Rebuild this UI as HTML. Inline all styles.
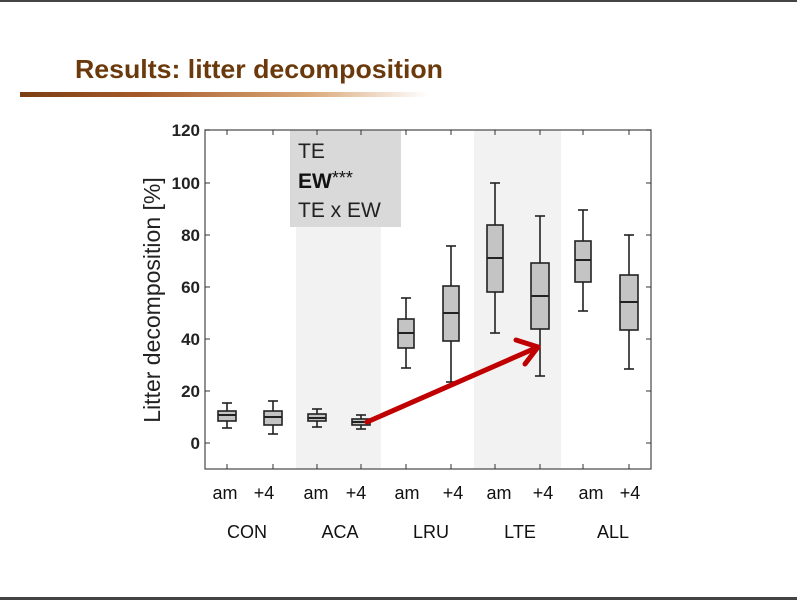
<!DOCTYPE html>
<html><head><meta charset="utf-8"><style>
html,body{margin:0;padding:0;background:#fff;}
svg{display:block;font-family:"Liberation Sans",Arial,sans-serif;}
</style></head><body>
<svg width="797" height="600" viewBox="0 0 797 600" xmlns="http://www.w3.org/2000/svg">
<defs>
<linearGradient id="g" x1="0" x2="1" y1="0" y2="0">
<stop offset="0" stop-color="#7a3e12"/><stop offset="0.3" stop-color="#a65a2a"/><stop offset="0.7" stop-color="#d9a676"/><stop offset="1" stop-color="#ffffff"/>
</linearGradient>
</defs>
<rect x="0" y="0" width="797" height="2" fill="#444"/>
<rect x="0" y="597" width="797" height="3" fill="#444"/>
<text x="75" y="78" font-size="26" font-weight="bold" fill="#6b3a0c" textLength="368" lengthAdjust="spacingAndGlyphs">Results: litter decomposition</text>
<rect x="20" y="92" width="408" height="5" fill="url(#g)"/>

<rect x="296" y="130" width="85" height="339" fill="#f2f2f2"/>
<rect x="474" y="130" width="87" height="339" fill="#f2f2f2"/>
<rect x="290" y="130" width="111" height="97" fill="#d9d9d9"/>
<text x="298" y="158" font-size="21" fill="#222">TE</text>
<text x="298" y="188" font-size="21" fill="#111" font-weight="bold">EW<tspan font-weight="normal" font-size="18" dy="-4">***</tspan></text>
<text x="298" y="217" font-size="21" fill="#222">TE x EW</text>

<rect x="205" y="130" width="446" height="339" fill="none" stroke="#555" stroke-width="1.3"/>
<g stroke="#333" stroke-width="1">
<line x1="205" y1="443" x2="210" y2="443"/><line x1="651" y1="443" x2="646" y2="443"/>
<line x1="205" y1="391" x2="210" y2="391"/><line x1="651" y1="391" x2="646" y2="391"/>
<line x1="205" y1="339" x2="210" y2="339"/><line x1="651" y1="339" x2="646" y2="339"/>
<line x1="205" y1="287" x2="210" y2="287"/><line x1="651" y1="287" x2="646" y2="287"/>
<line x1="205" y1="235" x2="210" y2="235"/><line x1="651" y1="235" x2="646" y2="235"/>
<line x1="205" y1="183" x2="210" y2="183"/><line x1="651" y1="183" x2="646" y2="183"/>
<line x1="205" y1="130" x2="210" y2="130"/><line x1="651" y1="130" x2="646" y2="130"/>
</g>
<g stroke="#333" stroke-width="1">
<line x1="227" y1="469" x2="227" y2="464"/><line x1="273" y1="469" x2="273" y2="464"/><line x1="317" y1="469" x2="317" y2="464"/><line x1="361" y1="469" x2="361" y2="464"/><line x1="406" y1="469" x2="406" y2="464"/><line x1="451" y1="469" x2="451" y2="464"/><line x1="495" y1="469" x2="495" y2="464"/><line x1="540" y1="469" x2="540" y2="464"/><line x1="583" y1="469" x2="583" y2="464"/><line x1="629" y1="469" x2="629" y2="464"/>
<line x1="227" y1="130" x2="227" y2="135"/><line x1="273" y1="130" x2="273" y2="135"/><line x1="317" y1="130" x2="317" y2="135"/><line x1="361" y1="130" x2="361" y2="135"/><line x1="406" y1="130" x2="406" y2="135"/><line x1="451" y1="130" x2="451" y2="135"/><line x1="495" y1="130" x2="495" y2="135"/><line x1="540" y1="130" x2="540" y2="135"/><line x1="583" y1="130" x2="583" y2="135"/><line x1="629" y1="130" x2="629" y2="135"/>
</g>
<g font-size="17" font-weight="bold" fill="#222" text-anchor="end">
<text x="200" y="449">0</text><text x="200" y="397">20</text><text x="200" y="345">40</text><text x="200" y="293">60</text><text x="200" y="241">80</text><text x="200" y="189">100</text><text x="200" y="136">120</text>
</g>
<text transform="translate(160,300) rotate(-90)" font-size="23" fill="#222" text-anchor="middle">Litter decomposition [%]</text>

<g stroke="#222" stroke-width="1.6" fill="#c4c4c4">
<line x1="227" y1="403" x2="227" y2="428"/><line x1="222" y1="403" x2="232" y2="403"/><line x1="222" y1="428" x2="232" y2="428"/>
<rect x="218" y="411" width="18" height="10"/><line x1="218" y1="415" x2="236" y2="415" stroke-width="2"/>
<line x1="273" y1="401" x2="273" y2="434"/><line x1="268" y1="401" x2="278" y2="401"/><line x1="268" y1="434" x2="278" y2="434"/>
<rect x="264" y="411" width="18" height="14"/><line x1="264" y1="417" x2="282" y2="417" stroke-width="2"/>
<line x1="317" y1="409" x2="317" y2="427"/><line x1="312" y1="409" x2="322" y2="409"/><line x1="312" y1="427" x2="322" y2="427"/>
<rect x="308" y="414" width="18" height="7"/><line x1="308" y1="418" x2="326" y2="418" stroke-width="2"/>
<line x1="361" y1="415" x2="361" y2="429"/><line x1="356" y1="415" x2="366" y2="415"/><line x1="356" y1="429" x2="366" y2="429"/>
<rect x="352" y="419" width="18" height="6"/><line x1="352" y1="422" x2="370" y2="422" stroke-width="2"/>
<line x1="406" y1="298" x2="406" y2="368"/><line x1="401" y1="298" x2="411" y2="298"/><line x1="401" y1="368" x2="411" y2="368"/>
<rect x="398" y="319" width="16" height="29"/><line x1="398" y1="333" x2="414" y2="333" stroke-width="2"/>
<line x1="451" y1="246" x2="451" y2="382"/><line x1="446" y1="246" x2="456" y2="246"/><line x1="446" y1="382" x2="456" y2="382"/>
<rect x="443" y="286" width="16" height="55"/><line x1="443" y1="313" x2="459" y2="313" stroke-width="2"/>
<line x1="495" y1="183" x2="495" y2="333"/><line x1="490" y1="183" x2="500" y2="183"/><line x1="490" y1="333" x2="500" y2="333"/>
<rect x="487" y="225" width="16" height="67"/><line x1="487" y1="258" x2="503" y2="258" stroke-width="2"/>
<line x1="540" y1="216" x2="540" y2="376"/><line x1="535" y1="216" x2="545" y2="216"/><line x1="535" y1="376" x2="545" y2="376"/>
<rect x="531" y="263" width="18" height="66"/><line x1="531" y1="296" x2="549" y2="296" stroke-width="2"/>
<line x1="583" y1="210" x2="583" y2="311"/><line x1="578" y1="210" x2="588" y2="210"/><line x1="578" y1="311" x2="588" y2="311"/>
<rect x="575" y="241" width="16" height="41"/><line x1="575" y1="260" x2="591" y2="260" stroke-width="2"/>
<line x1="629" y1="235" x2="629" y2="369"/><line x1="624" y1="235" x2="634" y2="235"/><line x1="624" y1="369" x2="634" y2="369"/>
<rect x="620" y="275" width="18" height="55"/><line x1="620" y1="302" x2="638" y2="302" stroke-width="2"/>
</g>

<g stroke="#c00000" stroke-width="5" stroke-linecap="round" fill="none" stroke-linejoin="round">
<line x1="367" y1="422" x2="538" y2="347"/>
<polyline points="516,340 538,347 525,364"/>
</g>

<g font-size="18" fill="#111" text-anchor="middle">
<text x="225" y="499">am</text><text x="264" y="499">+4</text>
<text x="316" y="499">am</text><text x="356" y="499">+4</text>
<text x="407" y="499">am</text><text x="453" y="499">+4</text>
<text x="499" y="499">am</text><text x="543" y="499">+4</text>
<text x="591" y="499">am</text><text x="630" y="499">+4</text>
<text x="247" y="538">CON</text><text x="340" y="538">ACA</text><text x="431" y="538">LRU</text><text x="520" y="538">LTE</text><text x="613" y="538">ALL</text>
</g>
</svg>
</body></html>
